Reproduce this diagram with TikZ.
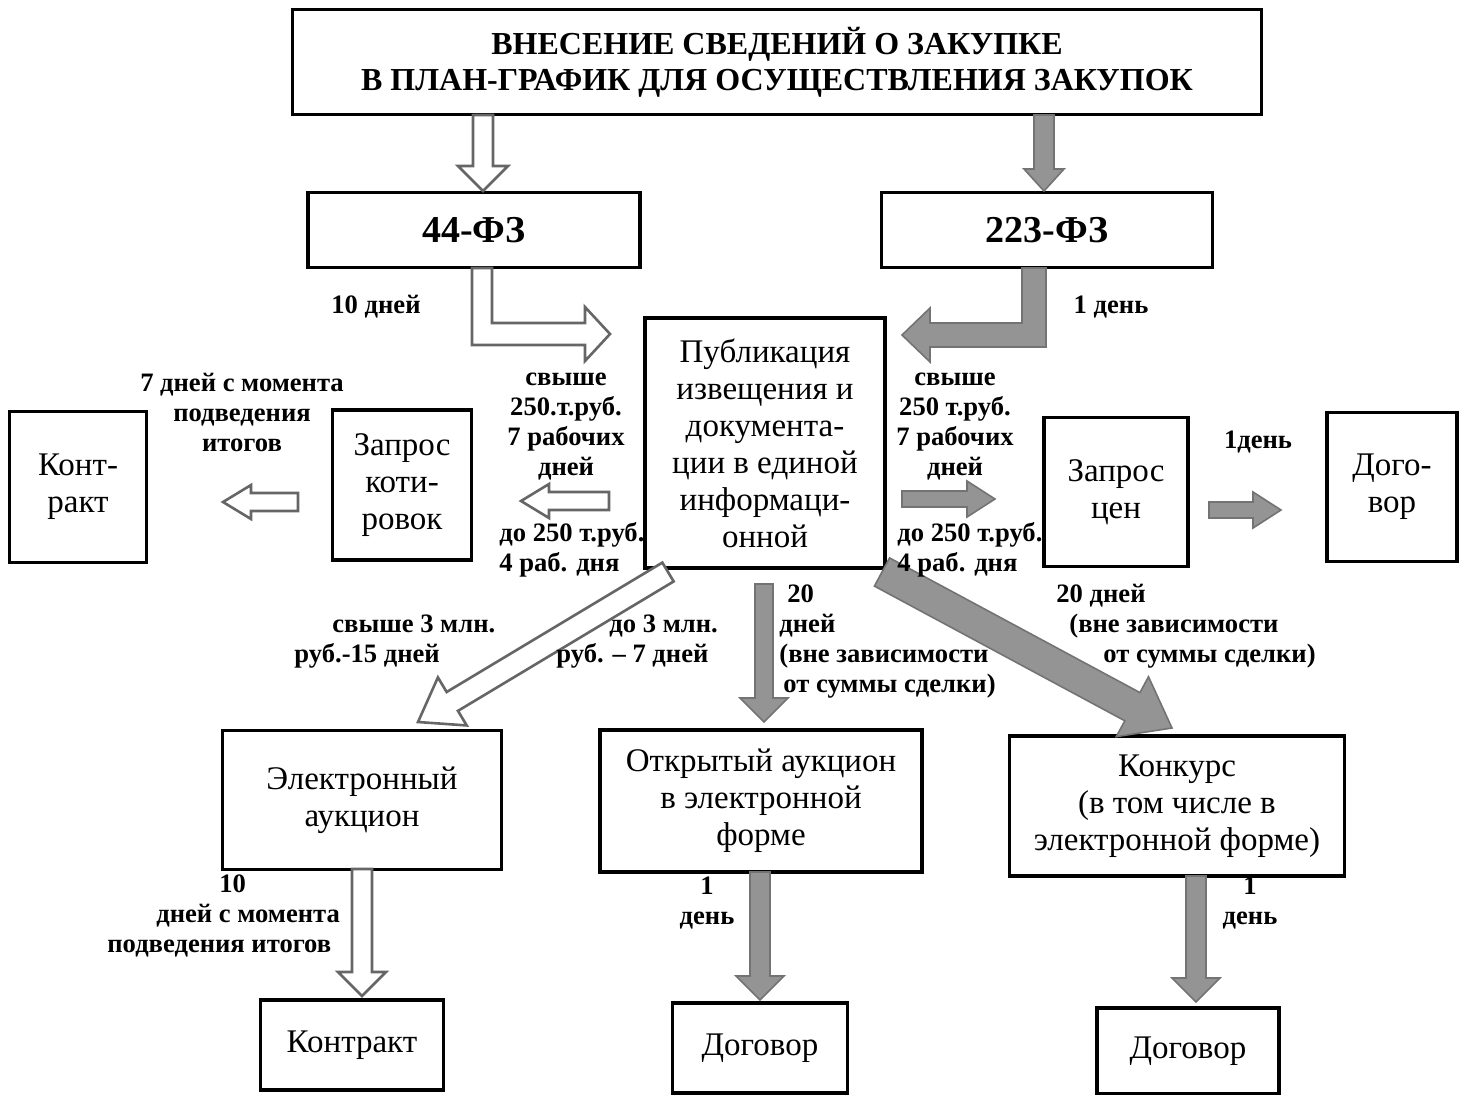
\documentclass[tikz,border=0pt]{standalone}
\usepackage{fontspec}
\setmainfont{Liberation Serif}
\usepackage{tikz}
\usetikzlibrary{calc}

\tikzset{
  box/.style={draw, line width=1.8pt, align=center, inner sep=2pt,
    font=\fontsize{16.5}{18.5}\selectfont},
  lbl/.style={align=center, inner sep=0pt, font=\bfseries\fontsize{13.3}{15}\selectfont},
  warrow/.style={draw=black!60, fill=white, line width=1.3pt, line join=miter},
  garrow/.style={draw=black!55, fill=black!42, line width=0.8pt, line join=miter}
}

% #1 style, #2 from, #3 to, #4 half shaft, #5 half head, #6 head length
\newcommand{\blockarrow}[6]{%
  \coordinate (ba-h) at ($(#3)!#6!(#2)$);
  \path[#1] ($(#2)!#4!90:(#3)$) -- ($(ba-h)!#4!90:(#3)$) -- ($(ba-h)!#5!90:(#3)$) -- (#3)
    -- ($(ba-h)!#5!-90:(#3)$) -- ($(ba-h)!#4!-90:(#3)$) -- ($(#2)!#4!-90:(#3)$) -- cycle;
}

\begin{document}
\begin{tikzpicture}[x=0.5pt, y=-0.5pt]
\useasboundingbox (0,0) rectangle (1461,1094);

\node[box, minimum width=484.5pt, minimum height=52.5pt, font=\bfseries\fontsize{16}{18}\selectfont] (title) at (777,62)
  {ВНЕСЕНИЕ СВЕДЕНИЙ О ЗАКУПКЕ\\В ПЛАН-ГРАФИК ДЛЯ ОСУЩЕСТВЛЕНИЯ ЗАКУПОК};
\node[box, minimum width=166pt, minimum height=37.5pt, font=\bfseries\fontsize{19}{22}\selectfont] (fz44) at (474,230) {44-ФЗ};
\node[box, minimum width=165.5pt, minimum height=37.5pt, font=\bfseries\fontsize{19}{22}\selectfont] (fz223) at (1047,230) {223-ФЗ};
\node[box, minimum width=120pt, minimum height=125pt] (pub) at (765,443)
  {Публикация\\извещения и\\документа-\\ции в единой\\информаци-\\онной};
\node[box, minimum width=68.5pt, minimum height=75.5pt] (kontr1) at (78,487) {Конт-\\ракт};
\node[box, minimum width=69.5pt, minimum height=75pt] (zk) at (402,485) {Запрос\\коти-\\ровок};
\node[box, minimum width=72pt, minimum height=74.5pt] (zc) at (1116,492) {Запрос\\цен};
\node[box, minimum width=65pt, minimum height=74.5pt] (dog1) at (1392,487) {Дого-\\вор};
\node[box, minimum width=139.5pt, minimum height=69.5pt] (ea) at (362,800) {Электронный\\аукцион};
\node[box, minimum width=161pt, minimum height=71pt] (oa) at (761,801) {Открытый аукцион\\в электронной\\форме};
\node[box, minimum width=167.5pt, minimum height=70pt] (konk) at (1177,806) {Конкурс\\(в том числе в\\электронной форме)};
\node[box, minimum width=91.5pt, minimum height=45pt] (kontr2) at (352,1045) {Контракт};
\node[box, minimum width=87.5pt, minimum height=45pt] (dog2) at (760,1048) {Договор};
\node[box, minimum width=91pt, minimum height=43pt] (dog3) at (1188,1051) {Договор};

\coordinate (t44a) at (483,115);   \coordinate (t44b) at (483,191);
\coordinate (t223a) at (1044,115); \coordinate (t223b) at (1044,191);
\coordinate (pzka) at (609,501);   \coordinate (pzkb) at (521,501);
\coordinate (zkka) at (298,502);   \coordinate (zkkb) at (223,502);
\coordinate (pzca) at (902,499);   \coordinate (pzcb) at (995,499);
\coordinate (zcda) at (1209,510);  \coordinate (zcdb) at (1281,510);
\coordinate (peaa) at (668,572);   \coordinate (peab) at (418,722);
\coordinate (poaa) at (764,584);   \coordinate (poab) at (764,722);
\coordinate (pkna) at (882,572);   \coordinate (pknb) at (1172,728);
\coordinate (eaka) at (362,869);   \coordinate (eakb) at (362,996);
\coordinate (oada) at (760,872);   \coordinate (oadb) at (760,1000);
\coordinate (knda) at (1196,876);  \coordinate (kndb) at (1196,1002);

\blockarrow{warrow}{t44a}{t44b}{5pt}{12.5pt}{12.5pt}
\blockarrow{garrow}{t223a}{t223b}{5pt}{10pt}{11pt}
\path[warrow] (472,268) -- (472,345) -- (585,345) -- (585,361) -- (610,334) -- (585,307)
  -- (585,323) -- (492,323) -- (492,268) -- cycle;
\path[garrow] (1046,268) -- (1046,347) -- (930,347) -- (930,362) -- (902,335) -- (930,308)
  -- (930,323) -- (1022,323) -- (1022,268) -- cycle;
\blockarrow{warrow}{pzka}{pzkb}{4.5pt}{8.5pt}{14pt}
\blockarrow{warrow}{zkka}{zkkb}{4.5pt}{8.5pt}{14pt}
\blockarrow{garrow}{pzca}{pzcb}{4pt}{9pt}{14pt}
\blockarrow{garrow}{zcda}{zcdb}{4pt}{9pt}{14pt}
\blockarrow{warrow}{peaa}{peab}{5.5pt}{14pt}{20pt}
\blockarrow{garrow}{poaa}{poab}{4.5pt}{12pt}{12pt}
\blockarrow{garrow}{pkna}{pknb}{8pt}{17pt}{22.5pt}
\blockarrow{warrow}{eaka}{eakb}{5pt}{12pt}{12pt}
\blockarrow{garrow}{oada}{oadb}{5pt}{12pt}{12pt}
\blockarrow{garrow}{knda}{kndb}{5pt}{12pt}{12pt}

\node[lbl] (l10d) at (376,307) {10 дней};
\node[lbl] (l1d) at (1111,307) {1 день};
\node[lbl] (l7d) at (242,412) {7 дней с момента\\подведения\\итогов};
\node[lbl] (lzk1) at (566,427) {свыше\\250.т.руб.\\7 рабочих\\дней};
\node[lbl, align=left, anchor=west] (lzk2) at (499,550) {до 250 т.руб.\\4 раб. дня};
\node[lbl] (lzc1) at (955,427) {свыше\\250 т.руб.\\7 рабочих\\дней};
\node[lbl, align=left, anchor=west] (lzc2) at (897,550) {до 250 т.руб.\\4 раб. дня};
\node[lbl] (l1day) at (1258,442) {1день};
\node[lbl, align=left, anchor=north west] (l20a) at (779,584)
  {\hspace{4pt}20\\дней\\(вне зависимости\\\hspace{2pt}от суммы сделки)};
\node[lbl, align=left, anchor=north west] (l20b) at (1056,584)
  {20 дней\\\hspace{6.5pt}(вне зависимости\\\hspace{23.5pt}от суммы сделки)};
\node[lbl, align=left, anchor=north west] (l3a) at (294,614) {\hspace{19pt}свыше 3 млн.\\руб.-15 дней};
\node[lbl, align=left, anchor=north west] (l3b) at (556,614) {\hspace{26.5pt}до 3 млн.\\руб. – 7 дней};
\node[lbl, align=left, anchor=north west] (l10b) at (107,874)
  {\hspace{56pt}10\\\hspace{24.5pt}дней с момента\\подведения итогов};
\node[lbl] (l1a) at (707,903) {1\\день};
\node[lbl] (l1b) at (1250,903) {1\\день};
\end{tikzpicture}
\end{document}
